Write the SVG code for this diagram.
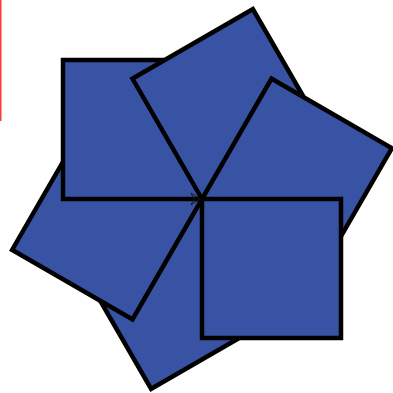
<svg xmlns="http://www.w3.org/2000/svg" width="393" height="393" viewBox="0 0 393 393">
<style>
.sq{fill:#3853a4;stroke:#000;stroke-width:4.5;stroke-linejoin:miter}
.ar{fill:none;stroke:#111;stroke-width:0.9}
</style>
<defs>
<rect id="s" x="0" y="0" width="139" height="139"/>
</defs>
<line x1="0.7" y1="0" x2="0.7" y2="121" stroke="#ff3a3a" stroke-width="1.6"/>
<g transform="translate(202,199)">
<g id="sq60"><use href="#s" class="sq" transform="rotate(60)"/></g>
<g id="sq120"><use href="#s" class="sq" transform="rotate(120)"/></g>
<g id="sq180"><use href="#s" class="sq" transform="rotate(180)"/></g>
<g id="sq240"><use href="#s" class="sq" transform="rotate(240)"/></g>
<g id="sq300"><use href="#s" class="sq" transform="rotate(300)"/></g>
<g id="sq0"><use href="#s" class="sq"/></g>
</g>
<g id="connectors">
<path class="ar" d="M191,193 L200,199 L191,205 L194,199 Z"/>
</g>
</svg>
